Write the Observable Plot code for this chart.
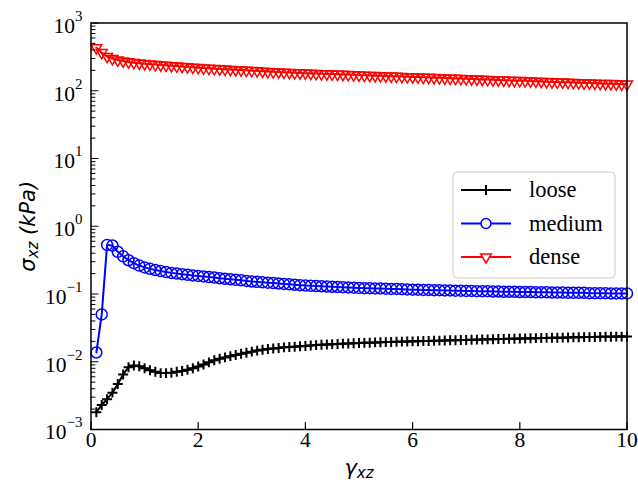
<!DOCTYPE html>
<html><head><meta charset="utf-8">
<script src="https://cdn.jsdelivr.net/npm/d3@7"></script>
<script src="https://cdn.jsdelivr.net/npm/@observablehq/plot@0.6"></script>
<style>body{margin:0;background:#fff;}#chart{width:638px;height:490px;}</style>
</head><body><div id="chart"></div>
<script>
const gamma = [0.1,0.2,0.3,0.4,0.5,0.6,0.7,0.8,0.9,1.0,
1.1,1.2,1.3,1.4,1.5,1.6,1.7,1.8,1.9,2.0,
2.1,2.2,2.3,2.4,2.5,2.6,2.7,2.8,2.9,3.0,
3.1,3.2,3.3,3.4,3.5,3.6,3.7,3.8,3.9,4.0,
4.1,4.2,4.3,4.4,4.5,4.6,4.7,4.8,4.9,5.0,
5.1,5.2,5.3,5.4,5.5,5.6,5.7,5.8,5.9,6.0,
6.1,6.2,6.3,6.4,6.5,6.6,6.7,6.8,6.9,7.0,
7.1,7.2,7.3,7.4,7.5,7.6,7.7,7.8,7.9,8.0,
8.1,8.2,8.3,8.4,8.5,8.6,8.7,8.8,8.9,9.0,
9.1,9.2,9.3,9.4,9.5,9.6,9.7,9.8,9.9,10.0];

const loose = [0.0018,0.0023,0.0028,0.0035,0.0047,0.0065,0.0083,0.0088,0.0086,0.0080,
0.0075,0.0071,0.0068,0.0068,0.0069,0.0071,0.0073,0.0076,0.0080,0.0085,
0.0091,0.0098,0.0105,0.0111,0.0116,0.0121,0.0126,0.0131,0.0136,0.0141,
0.0146,0.0150,0.0154,0.0157,0.0160,0.0163,0.0165,0.0167,0.0169,0.0171,
0.0174,0.0176,0.0178,0.0180,0.0182,0.0183,0.0185,0.0186,0.0188,0.0189,
0.0190,0.0191,0.0193,0.0194,0.0195,0.0196,0.0197,0.0198,0.0199,0.0200,
0.0201,0.0202,0.0203,0.0204,0.0205,0.0206,0.0207,0.0208,0.0209,0.0210,
0.0211,0.0212,0.0213,0.0214,0.0215,0.0216,0.0217,0.0218,0.0219,0.0220,
0.0221,0.0222,0.0223,0.0224,0.0225,0.0226,0.0226,0.0227,0.0228,0.0229,
0.0230,0.0231,0.0231,0.0232,0.0233,0.0234,0.0234,0.0235,0.0235,0.0236];

const medium = [0.0137,0.050,0.530,0.520,0.420,0.360,0.315,0.285,0.263,0.247,
0.235,0.226,0.218,0.211,0.205,0.200,0.196,0.192,0.188,0.185,
0.182,0.178,0.175,0.171,0.168,0.165,0.162,0.159,0.156,0.153,
0.151,0.149,0.147,0.145,0.143,0.141,0.139,0.137,0.135,0.133,
0.132,0.131,0.130,0.129,0.128,0.127,0.126,0.125,0.124,0.123,
0.122,0.122,0.121,0.121,0.120,0.119,0.119,0.118,0.117,0.116,
0.116,0.115,0.115,0.114,0.114,0.113,0.113,0.112,0.112,0.111,
0.111,0.110,0.110,0.110,0.109,0.109,0.108,0.108,0.108,0.107,
0.107,0.107,0.106,0.106,0.106,0.105,0.105,0.105,0.104,0.104,
0.104,0.104,0.103,0.103,0.103,0.103,0.102,0.102,0.102,0.102];

const dense = [430,365,320,298,284,274,266,260,255,251,
247,243,240,237,234,231,228,225,222,219,
216,214,212,210,208,206,204,202,200,198,
196,194,192,190,189,187,186,184,183,182,
180,179,178,177,176,175,174,173,172,170,
169,168,167,166,165,164,163,162,161,160,
159,158,157,156,155,154,153,152,151,150,
149,148,147,146,145,144,143,142,141,141,
140,139,138,137,136,135,134,134,133,132,
131,130,130,129,128,127,127,126,125,125];

const seriesNames = ["loose", "medium", "dense"];
const seriesColors = ["#000000", "#0000ff", "#ff0000"];
const xTicks = [0, 2, 4, 6, 8, 10];
const yDecades = [1e-3, 1e-2, 1e-1, 1e0, 1e1, 1e2, 1e3];
const yExponents = ["\u22123", "\u22122", "\u22121", "0", "1", "2", "3"];
const minorMult = [2, 3, 4, 5, 6, 7, 8, 9];

const rows = gamma.map((g, i) => ({gamma: g, loose: loose[i], medium: medium[i], dense: dense[i]}));
const yMinor = yDecades.slice(0, -1).flatMap(d => minorMult.map(m => m * d));

const W = 638, H = 490;
const mL = 90.5, mR = 11.5, mT = 22.5, mB = 61;
const serif = "'Liberation Serif', 'Times New Roman', Times, serif";
const sans = "'DejaVu Sans', sans-serif";

const ctx = document.createElement("canvas").getContext("2d");
function tw(s, font) { ctx.font = font; return ctx.measureText(s).width; }

const tickShape = {draw(context, l) { context.moveTo(0, 0); context.lineTo(0, -l); }};

const tickFont = 21.5, expFont = 15;
const yLabelMarks = yDecades.map((d, i) => {
  const ew = tw(yExponents[i], `${expFont}px ${serif}`);
  return [
    Plot.text([d], {y: v => v, frameAnchor: "left", text: () => "10", textAnchor: "end",
      dx: -8.5 - ew, dy: 3, fontSize: tickFont, fontFamily: serif, fill: "black"}),
    Plot.text([d], {y: v => v, frameAnchor: "left", text: () => yExponents[i], textAnchor: "end",
      dx: -8.5, dy: -7, fontSize: expFont, fontFamily: serif, fill: "black"})
  ];
}).flat();

// y axis title pieces
const cy = mT + (H - mT - mB) / 2;
const w1 = tw("\u03c3", `italic 21px ${sans}`), w2 = tw("xz", `italic 15px ${sans}`), w3 = tw(" (kPa)", `italic 21px ${sans}`);
const yBottom = cy + (w1 + w2 + w3) / 2;
const yTitleBase = 34;
const yTitle = [
  Plot.text([0], {frameAnchor: "left", text: () => "\u03c3", rotate: -90, textAnchor: "start", lineAnchor: "bottom",
    dx: yTitleBase - mL, dy: yBottom - cy, fontSize: 21, fontStyle: "italic", fontFamily: sans, fill: "black"}),
  Plot.text([0], {frameAnchor: "left", text: () => "xz", rotate: -90, textAnchor: "start", lineAnchor: "bottom",
    dx: yTitleBase + 3 - mL, dy: yBottom - w1 - cy, fontSize: 15, fontStyle: "italic", fontFamily: sans, fill: "black"}),
  Plot.text([0], {frameAnchor: "left", text: () => " (kPa)", rotate: -90, textAnchor: "start", lineAnchor: "bottom",
    dx: yTitleBase - mL, dy: yBottom - w1 - w2 - cy, fontSize: 21, fontStyle: "italic", fontFamily: sans, fill: "black"})
];

// x axis title pieces
const cx = mL + (W - mL - mR) / 2;
const g1 = tw("\u03b3", `italic 21px ${sans}`), g2 = tw("xz", `italic 15px ${sans}`);
const xStart = cx - (g1 + g2) / 2;
const xTitle = [
  Plot.text([0], {frameAnchor: "bottom", text: () => "\u03b3", textAnchor: "start", lineAnchor: "bottom",
    dx: xStart - cx, dy: 474 - (H - mB), fontSize: 21, fontStyle: "italic", fontFamily: sans, fill: "black"}),
  Plot.text([0], {frameAnchor: "bottom", text: () => "xz", textAnchor: "start", lineAnchor: "bottom",
    dx: xStart + g1 - cx, dy: 477 - (H - mB), fontSize: 15, fontStyle: "italic", fontFamily: sans, fill: "black"})
];

const rPlus = 3.3, rCircle = 5.5, rTri = 4.0;

const chart = Plot.plot({
  width: W, height: H,
  marginLeft: mL, marginRight: mR, marginTop: mT, marginBottom: mB,
  x: {domain: [0, 10], axis: null},
  y: {type: "log", domain: [1e-3, 1e3], axis: null},
  marks: [
    Plot.line(rows, {x: "gamma", y: "loose", stroke: seriesColors[0], strokeWidth: 2}),
    Plot.dot(rows, {x: "gamma", y: "loose", symbol: "plus", r: rPlus, stroke: seriesColors[0], strokeWidth: 2, fill: "none"}),
    Plot.line(rows, {x: "gamma", y: "medium", stroke: seriesColors[1], strokeWidth: 2}),
    Plot.dot(rows, {x: "gamma", y: "medium", symbol: "circle", r: rCircle, stroke: seriesColors[1], strokeWidth: 1.5, fill: "none"}),
    Plot.line(rows, {x: "gamma", y: "dense", stroke: seriesColors[2], strokeWidth: 2}),
    Plot.dot(rows, {x: "gamma", y: "dense", symbol: "triangle", rotate: 180, r: rTri, stroke: seriesColors[2], strokeWidth: 1.5, fill: "none"}),
    Plot.vector(yDecades, {y: d => d, frameAnchor: "left", rotate: 90, length: 7, anchor: "start", shape: tickShape, stroke: "black", strokeWidth: 1.2}),
    Plot.vector(yMinor, {y: d => d, frameAnchor: "left", rotate: 90, length: 4, anchor: "start", shape: tickShape, stroke: "black", strokeWidth: 1}),
    Plot.vector(xTicks, {x: d => d, frameAnchor: "bottom", rotate: 0, length: 7, anchor: "start", shape: tickShape, stroke: "black", strokeWidth: 1.2}),
    Plot.text(xTicks, {x: d => d, frameAnchor: "bottom", dy: 17, text: d => String(d), fontSize: tickFont, fontFamily: serif, fill: "black"}),
    ...yLabelMarks,
    ...yTitle,
    ...xTitle,
    Plot.frame({stroke: "black", strokeWidth: 1.5})
  ]
});
document.getElementById("chart").appendChild(chart);

// Legend
const svg = d3.select(chart);
const lg = svg.append("g").attr("class", "legend");
const lx = 453, ly = 172, lw = 162, lh = 106;
lg.append("rect").attr("x", lx).attr("y", ly).attr("width", lw).attr("height", lh).attr("rx", 4)
  .attr("fill", "white").attr("fill-opacity", 0.8).attr("stroke", "#cccccc").attr("stroke-width", 1);
const symbols = [d3.symbolPlus, d3.symbolCircle, d3.symbolTriangle];
const radii = [rPlus, rCircle * 0.9, rTri];
const rowY = [190, 223.5, 257];
seriesNames.forEach((name, i) => {
  const y = rowY[i];
  lg.append("line").attr("x1", 461).attr("x2", 511).attr("y1", y).attr("y2", y)
    .attr("stroke", seriesColors[i]).attr("stroke-width", 2);
  lg.append("path").attr("d", d3.symbol(symbols[i], radii[i] * radii[i] * Math.PI)())
    .attr("transform", `translate(486,${y})${i === 2 ? " rotate(180)" : ""}`)
    .attr("fill", i === 1 || i === 2 ? "white" : "none").attr("stroke", seriesColors[i]).attr("stroke-width", i === 0 ? 2 : 1.5);
  lg.append("text").attr("x", 529).attr("y", y).attr("dy", "0.32em")
    .attr("text-anchor", "start")
    .style("font-family", serif).style("font-size", "22.5px").attr("fill", "black").text(name);
});
</script>
</body></html>
